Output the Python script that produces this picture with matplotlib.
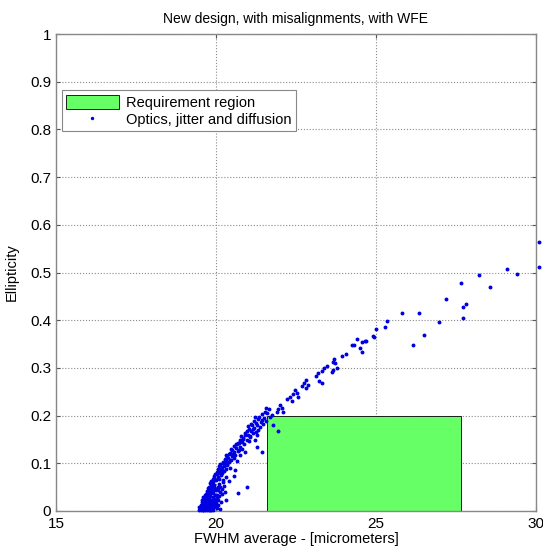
import matplotlib
matplotlib.use("Agg")
import matplotlib.pyplot as plt
from matplotlib.patches import Rectangle


# -------------------------
# Data
# -------------------------
# requirement region: FWHM 21.6 .. 27.65 um, ellipticity 0 .. 0.2
req_fwhm = [21.6, 27.65]
req_ellip = [0.0, 0.2]

# dense band near the bottom
fwhm_low = [
    19.46, 19.50, 19.53, 19.56, 19.60, 19.63, 19.66, 19.70, 19.73, 19.77,
    19.80, 19.84, 19.88, 19.92, 19.55, 19.60, 19.65, 19.70, 19.75, 19.82,
    19.90, 19.97, 20.02, 19.48, 19.52, 19.58, 19.62, 19.68, 19.72, 19.78,
    19.86, 19.94, 19.99, 19.57, 19.64, 19.71, 19.79, 19.87,
    19.58, 19.62, 19.66, 19.70, 19.74, 19.78, 19.83, 19.87, 19.92, 19.98,
    20.05, 19.68, 19.80, 19.90, 20.10, 20.28, 20.31, 20.15, 19.64, 19.73,
    19.85, 19.95, 20.03,
    19.72, 19.75, 19.80, 19.85, 19.90, 19.95, 20.00, 20.05, 20.10, 20.18,
    19.82, 19.92, 20.70, 20.96, 20.25, 19.78, 19.88, 20.02,
    19.51, 19.54, 19.59, 19.61, 19.67, 19.69, 19.74, 19.76, 19.81, 19.83,
    19.89, 19.93, 19.96, 20.00, 20.08, 20.12, 19.60, 19.66, 19.72, 19.76,
    19.84, 19.91, 19.96, 20.04, 20.12, 20.20, 19.77, 19.86, 19.93, 20.07,
    20.13, 20.22,
]
ellip_low = [
    0.002, 0.004, 0.001, 0.006, 0.003, 0.008, 0.002, 0.005, 0.010, 0.004,
    0.007, 0.012, 0.006, 0.003, 0.012, 0.016, 0.014, 0.019, 0.015, 0.018,
    0.015, 0.010, 0.006, 0.009, 0.013, 0.018, 0.009, 0.011, 0.002, 0.013,
    0.002, 0.008, 0.016, 0.007, 0.004, 0.013, 0.001, 0.010,
    0.022, 0.026, 0.030, 0.025, 0.034, 0.028, 0.032, 0.024, 0.030, 0.026,
    0.022, 0.036, 0.039, 0.037, 0.031, 0.040, 0.023, 0.018, 0.020, 0.021,
    0.038, 0.020, 0.034,
    0.042, 0.048, 0.045, 0.052, 0.047, 0.055, 0.044, 0.050, 0.057, 0.046,
    0.058, 0.060, 0.037, 0.050, 0.053, 0.040, 0.041, 0.046,
    0.007, 0.010, 0.002, 0.011, 0.006, 0.022, 0.018, 0.027, 0.001, 0.024,
    0.020, 0.009, 0.019, 0.013, 0.012, 0.004, 0.030, 0.033, 0.029, 0.041,
    0.043, 0.041, 0.033, 0.028, 0.040, 0.035, 0.051, 0.056, 0.050, 0.044,
    0.051, 0.060,
]

# band between ellipticity 0.06 and 0.22
fwhm_mid = [
    19.86, 19.90, 19.95, 20.00, 20.05, 20.10, 20.15, 20.22, 20.30, 19.98,
    20.08, 20.40, 20.55,
    20.02, 20.06, 20.12, 20.16, 20.20, 20.25, 20.30, 20.36, 20.45, 20.14,
    20.22, 20.60,
    20.22, 20.27, 20.33, 20.38, 20.44, 20.50, 20.58, 20.30, 20.40, 20.65,
    20.75,
    20.45, 20.50, 20.56, 20.62, 20.68, 20.74, 20.82, 20.55, 20.66, 20.90,
    21.27,
    20.68, 20.74, 20.80, 20.86, 20.96, 21.06, 21.15, 21.22, 21.27, 20.78,
    20.92, 21.43,
    20.90, 20.96, 21.02, 21.10, 21.18, 21.32, 21.38, 21.00, 21.12, 21.25,
    21.10, 21.18, 21.25, 21.30, 21.43, 21.48, 21.35, 21.22, 21.55, 21.77,
    21.95,
    21.45, 21.52, 21.60, 21.69, 21.74, 21.65, 21.90, 21.95, 22.05, 22.10,
    22.00, 21.58,
    19.93, 20.03, 20.13, 20.19, 20.26, 20.11, 20.19, 20.28, 20.34, 20.41,
    20.36, 20.48, 20.53, 20.46, 20.60, 20.71, 20.64, 20.72, 20.88, 20.84,
    21.02, 20.99, 21.08, 21.15, 21.28, 21.40, 21.50,
]
ellip_mid = [
    0.062, 0.066, 0.070, 0.064, 0.072, 0.068, 0.075, 0.065, 0.071, 0.078,
    0.080, 0.062, 0.074,
    0.082, 0.087, 0.084, 0.091, 0.086, 0.094, 0.088, 0.097, 0.090, 0.098,
    0.100, 0.085,
    0.103, 0.108, 0.105, 0.112, 0.107, 0.115, 0.110, 0.117, 0.120, 0.104,
    0.118,
    0.122, 0.127, 0.124, 0.131, 0.126, 0.135, 0.129, 0.137, 0.140, 0.123,
    0.135,
    0.143, 0.148, 0.145, 0.152, 0.149, 0.156, 0.163, 0.149, 0.159, 0.157,
    0.160, 0.124,
    0.163, 0.168, 0.172, 0.167, 0.175, 0.170, 0.177, 0.178, 0.180, 0.165,
    0.183, 0.188, 0.185, 0.192, 0.191, 0.182, 0.197, 0.196, 0.188, 0.180,
    0.168,
    0.203, 0.208, 0.205, 0.198, 0.201, 0.213, 0.208, 0.213, 0.215, 0.208,
    0.222, 0.215,
    0.074, 0.078, 0.081, 0.079, 0.083, 0.094, 0.092, 0.101, 0.098, 0.102,
    0.113, 0.106, 0.119, 0.130, 0.118, 0.128, 0.141, 0.142, 0.140, 0.150,
    0.146, 0.160, 0.158, 0.171, 0.180, 0.186, 0.195,
]

# sparse upper tail
fwhm_high = [
    22.47, 22.52, 22.42, 22.57, 22.31, 22.23, 22.37, 22.83, 22.75, 22.68,
    22.88, 22.83, 23.20, 23.12, 23.23, 23.30, 23.46, 23.38, 23.30, 23.67,
    23.62, 23.77, 23.65, 23.69, 23.72, 23.93, 24.06, 24.57, 24.50, 24.31,
    24.24, 24.40, 24.57, 24.69, 24.94, 24.99, 25.28, 25.35, 24.66, 24.92,
    25.80, 26.35, 26.17, 26.50, 26.97, 27.73, 27.73, 27.81, 27.19, 28.56,
    27.66, 28.23, 29.40, 29.08, 30.10, 30.10,
]
ellip_high = [
    0.254, 0.248, 0.245, 0.240, 0.240, 0.234, 0.231, 0.275, 0.268, 0.262,
    0.264, 0.257, 0.290, 0.282, 0.273, 0.269, 0.304, 0.299, 0.294, 0.296,
    0.292, 0.299, 0.312, 0.318, 0.311, 0.325, 0.329, 0.333, 0.342, 0.347,
    0.348, 0.360, 0.354, 0.356, 0.365, 0.381, 0.386, 0.398, 0.357, 0.367,
    0.416, 0.416, 0.348, 0.369, 0.396, 0.405, 0.427, 0.434, 0.445, 0.469,
    0.479, 0.495, 0.497, 0.507, 0.512, 0.565,
]

fwhm = fwhm_low + fwhm_mid + fwhm_high
ellipticity = ellip_low + ellip_mid + ellip_high

x_ticks = [15, 20, 25, 30]
y_ticks = [0, 0.1, 0.2, 0.3, 0.4, 0.5, 0.6, 0.7, 0.8, 0.9, 1]
y_tick_labels = ["0", "0.1", "0.2", "0.3", "0.4", "0.5", "0.6", "0.7", "0.8", "0.9", "1"]


plt.rcParams["font.family"] = ["Liberation Sans", "DejaVu Sans"]

fig = plt.figure(figsize=(5.43, 5.5), dpi=100)
ax = fig.add_axes([0.103, 0.071, 0.884, 0.867])

box = Rectangle(
    (req_fwhm[0], req_ellip[0]),
    req_fwhm[1] - req_fwhm[0],
    req_ellip[1] - req_ellip[0],
    facecolor="#66ff66",
    edgecolor="black",
    linewidth=0.6,
    label="Requirement region",
    zorder=2,
)
ax.add_patch(box)

ax.plot(fwhm, ellipticity, ".", color="#0000e0", markersize=3.6,
        label="Optics, jitter and diffusion", zorder=3, clip_on=False)

ax.set_xlim(15, 30)
ax.set_ylim(0, 1)
ax.set_xticks(x_ticks)
ax.set_yticks(y_ticks)
ax.set_yticklabels(y_tick_labels)
ax.grid(True, linestyle=":", color="#8a8a8a", linewidth=0.8, zorder=1)
ax.set_axisbelow(True)
ax.tick_params(direction="in", top=True, right=True, length=3,
               labelsize=11, color="#555555")
ax.tick_params(axis="x", pad=4)
for s in ax.spines.values():
    s.set_color("#888888")
    s.set_linewidth(1.0)

ax.set_title("New design, with misalignments, with WFE", fontsize=10, pad=8)
ax.set_xlabel("FWHM average - [micrometers]", fontsize=10.5, labelpad=1)
ax.set_ylabel("Ellipticity", fontsize=10.5, labelpad=8)

leg = ax.legend(loc="upper left", bbox_to_anchor=(0.012, 0.882),
                fontsize=10.5, fancybox=False, framealpha=1,
                edgecolor="#888888", handlelength=3.6, handleheight=1.1,
                borderpad=0.3, labelspacing=0.15, handletextpad=0.5,
                borderaxespad=0, markerscale=0.8)
leg.get_frame().set_linewidth(0.8)

fig.savefig("out.png", dpi=100)
